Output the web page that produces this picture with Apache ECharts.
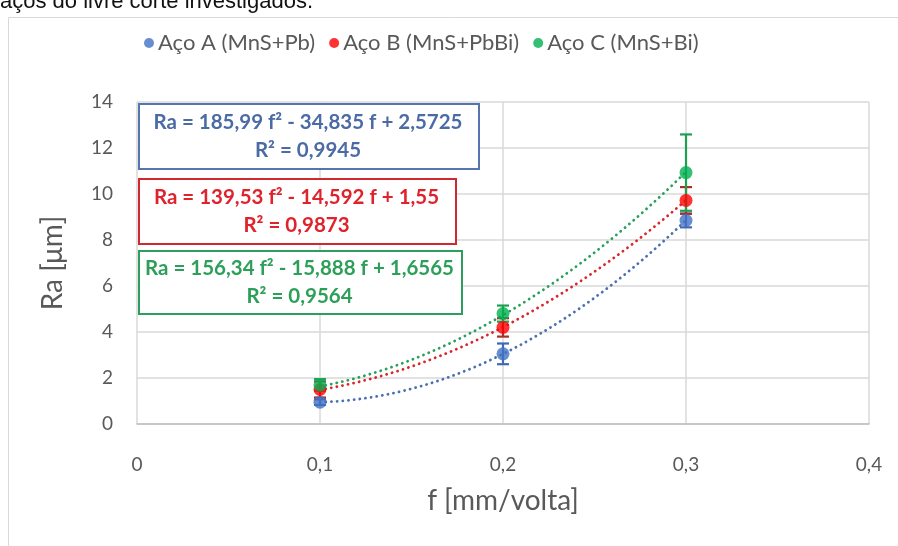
<!DOCTYPE html>
<html>
<head>
<meta charset="utf-8">
<script src="https://cdn.jsdelivr.net/npm/echarts@6/dist/echarts.min.js"></script>
<style>
  html, body { margin: 0; padding: 0; background: #ffffff; }
  #chart { width: 898px; height: 546px; }
</style>
</head>
<body>
<div id="chart"></div>
<script>
// Feed rate (mm/volta) and measured roughness Ra (µm) for each steel
const feeds = [0.1, 0.2, 0.3];
const seriesNames = ['Aço A (MnS+Pb)', 'Aço B (MnS+PbBi)', 'Aço C (MnS+Bi)'];
const raA = [0.95, 3.05, 8.85];
const raB = [1.50, 4.20, 9.72];
const raC = [1.70, 4.80, 10.93];
// Error bar half-widths (± µm)
const errA = [0.12, 0.45, 0.30];
const errB = [0.35, 0.40, 0.58];
const errC = [0.25, 0.35, 1.66];
// Second-order trendline coefficients [a, b, c] for Ra = a f² + b f + c
const fitA = [185.99, -34.835, 2.5725];
const fitB = [139.53, -14.592, 1.55];
const fitC = [156.34, -15.888, 1.6565];
// Trendline equation labels
const eqA = ['Ra = 185,99 f² - 34,835 f + 2,5725', 'R² = 0,9945'];
const eqB = ['Ra = 139,53 f² - 14,592 f + 1,55', 'R² = 0,9873'];
const eqC = ['Ra = 156,34 f² - 15,888 f + 1,6565', 'R² = 0,9564'];
// Axis ticks
const xTicks = [0, 0.1, 0.2, 0.3, 0.4];
const yTicks = [0, 2, 4, 6, 8, 10, 12, 14];

const markerColors = ['#4472C4', '#FF0000', '#00B050'];
const trendColors = ['#4A6FB0', '#D9262B', '#28A05C'];
const errColors = ['#3F68B5', '#A8302A', '#1FA050'];
const boxColors = ['#5675AE', '#D0282E', '#2E9E60'];
const textColors = ['#4B6BA5', '#E0222C', '#2D9F58'];

const raSets = [raA, raB, raC];
const errSets = [errA, errB, errC];
const fitSets = [fitA, fitB, fitC];
const eqSets = [eqA, eqB, eqC];

const FONT = 'Lato, "Open Sans", sans-serif';

function trendPoints(coef) {
  const pts = [];
  const x0 = feeds[0], x1 = feeds[feeds.length - 1];
  const n = 80;
  for (let i = 0; i <= n; i++) {
    const f = x0 + (x1 - x0) * i / n;
    pts.push([f, coef[0] * f * f + coef[1] * f + coef[2]]);
  }
  return pts;
}

const series = [];
// Dotted polynomial trendlines
fitSets.forEach((coef, i) => {
  series.push({
    name: 'trend' + i,
    type: 'line',
    data: trendPoints(coef),
    showSymbol: false,
    silent: true,
    z: 2,
    lineStyle: { color: trendColors[i], width: 2.8, type: [0.1, 5.6], cap: 'round' }
  });
});
// Error bars
raSets.forEach((vals, i) => {
  series.push({
    name: 'err' + i,
    type: 'custom',
    z: 3,
    silent: true,
    data: feeds.map((f, k) => [f, vals[k] - errSets[i][k], vals[k] + errSets[i][k]]),
    renderItem: function (params, api) {
      const lo = api.coord([api.value(0), api.value(1)]);
      const hi = api.coord([api.value(0), api.value(2)]);
      const half = 6;
      const st = { stroke: errColors[i], lineWidth: 2.2 };
      return {
        type: 'group',
        children: [
          { type: 'line', shape: { x1: lo[0], y1: lo[1], x2: hi[0], y2: hi[1] }, style: st },
          { type: 'line', shape: { x1: lo[0] - half, y1: lo[1], x2: lo[0] + half, y2: lo[1] }, style: st },
          { type: 'line', shape: { x1: hi[0] - half, y1: hi[1], x2: hi[0] + half, y2: hi[1] }, style: st }
        ]
      };
    },
    encode: { x: 0, y: [1, 2] }
  });
});
// Measured points
raSets.forEach((vals, i) => {
  series.push({
    name: seriesNames[i],
    type: 'scatter',
    z: 4,
    symbol: 'circle',
    symbolSize: 13,
    itemStyle: { color: markerColors[i] },
    data: feeds.map((f, k) => [f, vals[k]])
  });
});

// Trendline equation boxes
const boxes = [
  { x: 138, y: 103, w: 340, h: 65 },
  { x: 138, y: 178, w: 317, h: 65 },
  { x: 138, y: 250, w: 323, h: 63 }
];
const graphics = [];
boxes.forEach((b, i) => {
  graphics.push({
    type: 'rect', left: b.x, top: b.y, z: 10,
    shape: { width: b.w, height: b.h },
    style: { fill: '#ffffff', stroke: boxColors[i], lineWidth: 2 }
  });
  graphics.push({
    type: 'text', z: 11,
    x: b.x + b.w / 2, y: b.y + b.h / 2 + 1,
    style: {
      text: eqSets[i].join('\n'),
      fill: textColors[i],
      font: 'bold 20.5px ' + FONT,
      align: 'center', verticalAlign: 'middle',
      lineHeight: 28
    }
  });
});
// Caption line above the chart frame (partly cut by the page edge)
graphics.push({
  type: 'text', x: 0, y: 13, z: 1,
  style: { text: 'aços do livre corte investigados.', fill: '#111111',
           font: '22px "Liberation Sans", Arial, sans-serif', verticalAlign: 'bottom' }
});
// Chart frame
graphics.push({
  type: 'rect', left: 6, top: 15, z: 0, silent: true,
  shape: { width: 900, height: 540 },
  style: { fill: 'none', stroke: '#D9D9D9', lineWidth: 1 }
});

const chart = echarts.init(document.getElementById('chart'), null, { renderer: 'canvas' });
chart.setOption({
  animation: false,
  backgroundColor: '#ffffff',
  legend: {
    data: seriesNames,
    left: 139, top: 27,
    icon: 'circle', itemWidth: 10, itemHeight: 10, itemGap: 14,
    textStyle: { fontFamily: FONT, fontSize: 22, color: '#595959', padding: [0, 0, 0, -1] }
  },
  grid: { left: 137, right: 29, top: 102, bottom: 122, containLabel: false },
  xAxis: {
    type: 'value', min: xTicks[0], max: xTicks[xTicks.length - 1], interval: 0.1,
    name: 'f [mm/volta]', nameLocation: 'middle', nameGap: 63,
    nameTextStyle: { fontFamily: FONT, fontSize: 28, color: '#595959' },
    axisLine: { show: true, onZero: false, lineStyle: { color: '#BFBFBF', width: 1.5 } },
    axisTick: { show: false },
    axisLabel: {
      margin: 31, fontFamily: FONT, fontSize: 19, color: '#595959',
      formatter: v => String(Math.round(v * 10) / 10).replace('.', ',')
    },
    splitLine: { show: true, lineStyle: { color: '#D9D9D9', width: 1.5 } }
  },
  yAxis: {
    type: 'value', min: yTicks[0], max: yTicks[yTicks.length - 1], interval: 2,
    name: 'Ra [μm]', nameLocation: 'middle', nameGap: 70,
    nameTextStyle: { fontFamily: FONT, fontSize: 28, color: '#595959' },
    axisLine: { show: false },
    axisTick: { show: false },
    axisLabel: { margin: 24, fontFamily: FONT, fontSize: 19, color: '#595959' },
    splitLine: { show: true, lineStyle: { color: '#D9D9D9', width: 1.5 } }
  },
  series: series,
  graphic: graphics
});
</script>
</body>
</html>
